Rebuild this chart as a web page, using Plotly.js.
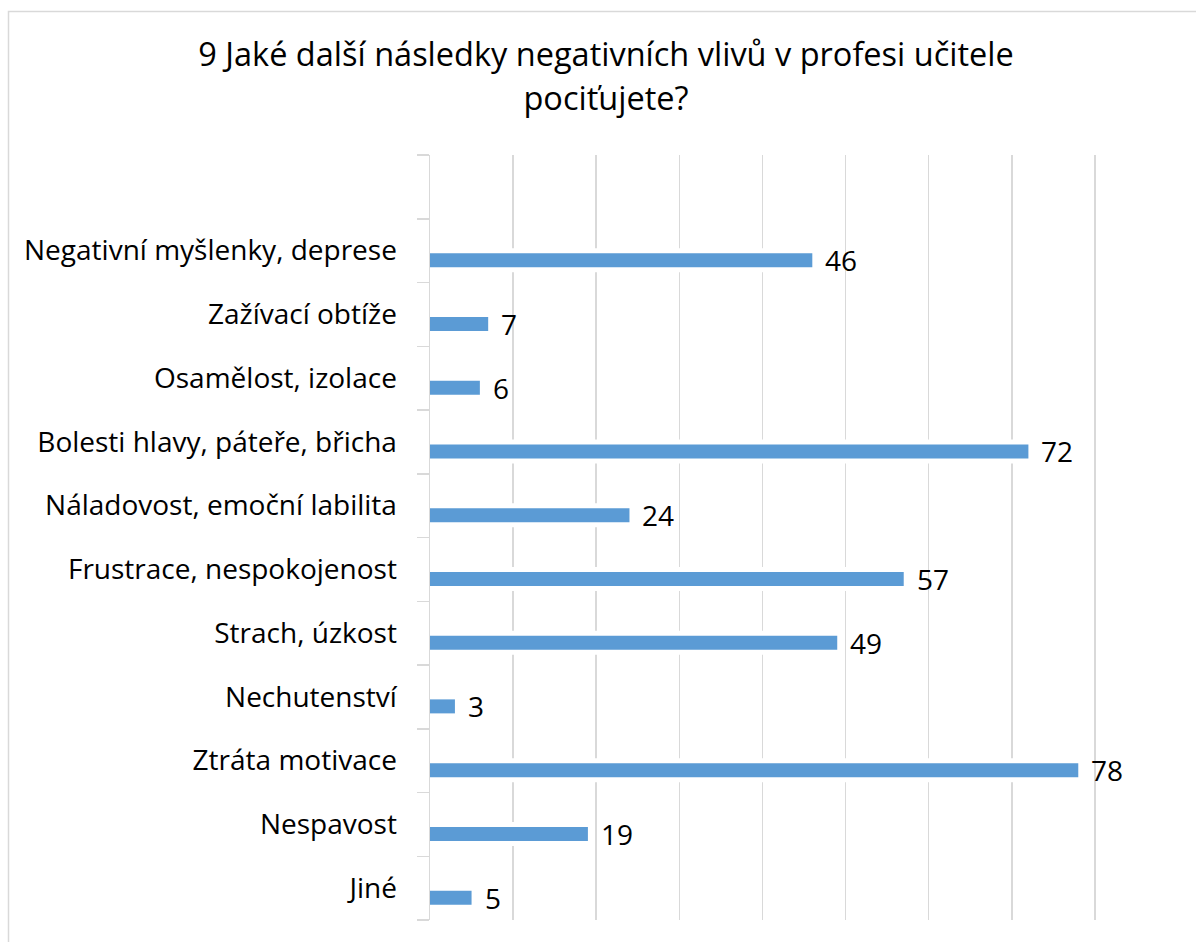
<!DOCTYPE html>
<html>
<head>
<meta charset="utf-8">
<script src="https://cdn.plot.ly/plotly-3.0.1.min.js"></script>
<style>
  html, body { margin: 0; padding: 0; background: #ffffff; }
  #chart { width: 1196px; height: 942px; }
</style>
</head>
<body>
<div id="chart"></div>
<script>
// ---- Data, bottom to top ----
const categories = [
  "Jiné",
  "Nespavost",
  "Ztráta motivace",
  "Nechutenství",
  "Strach, úzkost",
  "Frustrace, nespokojenost",
  "Náladovost, emoční labilita",
  "Bolesti hlavy, páteře, břicha",
  "Osamělost, izolace",
  "Zažívací obtíže",
  "Negativní myšlenky, deprese"
];
const values = [5, 19, 78, 3, 49, 57, 24, 72, 6, 7, 46];
const emptySlot = " ";   // empty top category slot in the original chart
const titleLine1 = "9 Jaké další následky negativních vlivů v profesi učitele";
const titleLine2 = "pociťujete?";

// ---- Layout geometry ----
const W = 1196, H = 942;
const M = { l: 430, r: 18, t: 155, b: 22 };
const plotW = W - M.l - M.r;
const plotH = H - M.t - M.b;
const slotPx = plotH / (categories.length + 1);

const FONT = "'Open Sans', 'Noto Sans', 'DejaVu Sans', sans-serif";
const GRID = "#d9d9d9";

const allCats = categories.concat([emptySlot]);

// white band behind each bar (breaks gridlines like the original)
const gapTrace = {
  type: "bar",
  orientation: "h",
  x: values,
  y: categories,
  width: 24 / slotPx,
  offset: -21.5 / slotPx,
  marker: { color: "#ffffff", line: { width: 0 } },
  hoverinfo: "skip",
  showlegend: false
};

const barTrace = {
  type: "bar",
  orientation: "h",
  x: values,
  y: categories,
  width: 14 / slotPx,
  offset: -16.5 / slotPx,
  marker: { color: "#5B9BD5", line: { width: 0 } },
  showlegend: false,
  hovertemplate: "%{y}: %{x}<extra></extra>"
};

const annotations = categories.map((c, i) => ({
  x: values[i],
  y: c,
  xref: "x",
  yref: "y",
  text: String(values[i]),
  showarrow: false,
  xanchor: "left",
  yanchor: "middle",
  xshift: 11,
  yshift: -9.5,
  font: { family: FONT, size: 28, color: "#000000" }
}));

// outer chart border (left and top edges visible in the crop)
const px2x = p => (p - M.l) / plotW;
const py2y = p => (H - M.b - p) / plotH;
const shapes = [{
  type: "rect",
  xref: "paper", yref: "paper",
  x0: px2x(8.5), x1: px2x(W + 40),
  y0: py2y(H + 40), y1: py2y(11.5),
  line: { color: GRID, width: 1.5 },
  fillcolor: "rgba(0,0,0,0)",
  layer: "below"
}];

const layout = {
  width: W,
  height: H,
  margin: M,
  paper_bgcolor: "#ffffff",
  plot_bgcolor: "#ffffff",
  barmode: "overlay",
  showlegend: false,
  font: { family: FONT, color: "#000000" },
  title: {
    text: "<span style='font-size:32.5px'>" + titleLine1 + "</span><br><span style='font-size:32.5px'>" + titleLine2 + "</span>",
    font: { family: FONT, size: 34, color: "#000000" },
    xref: "container",
    yref: "container",
    x: 606 / W,
    xanchor: "center",
    y: 1 - 66 / H,
    yanchor: "top"
  },
  xaxis: {
    range: [0, 90],
    dtick: 10,
    tick0: 0,
    showgrid: true,
    gridcolor: GRID,
    gridwidth: 1.5,
    zeroline: false,
    showline: false,
    showticklabels: false,
    ticks: "",
    fixedrange: true
  },
  yaxis: {
    type: "category",
    categoryorder: "array",
    categoryarray: allCats,
    range: [-0.5, allCats.length - 0.5],
    tickson: "boundaries",
    ticks: "outside",
    ticklen: 12,
    tickwidth: 1.5,
    tickcolor: GRID,
    showline: true,
    linecolor: GRID,
    linewidth: 1.5,
    showgrid: false,
    zeroline: false,
    ticklabelstandoff: 26,
    tickfont: { family: FONT, size: 28, color: "#000000" },
    fixedrange: true
  },
  annotations: annotations,
  shapes: shapes
};

Plotly.newPlot("chart", [gapTrace, barTrace], layout, { displayModeBar: false, staticPlot: true });
</script>
</body>
</html>
